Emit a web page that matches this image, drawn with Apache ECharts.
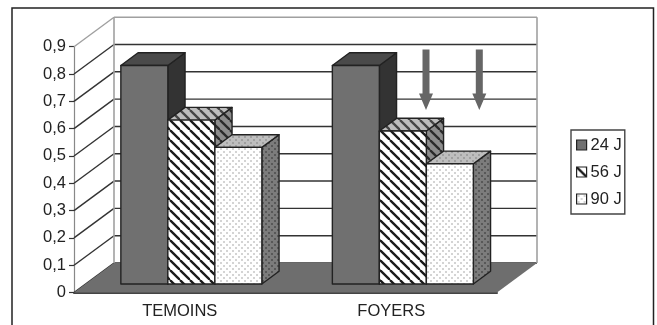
<!doctype html>
<html lang="fr">
<head>
    <meta charset="UTF-8">
    <title>Graphique</title>
    <script src="https://cdn.jsdelivr.net/npm/echarts@6/dist/echarts.min.js"></script>
    <style>
        html, body { margin: 0; padding: 0; background: #fff; overflow: hidden; }
        #main { width: 657px; height: 325px; filter: blur(0.5px); }
    </style>
</head>
<body>
<div id="main"></div>
<script type="text/javascript">
    // chart data
    var categories = ['TEMOINS', 'FOYERS'];
    var values24 = [0.8, 0.8];
    var values56 = [0.6, 0.56];
    var values90 = [0.5, 0.44];
    var yTicks = [0, 0.1, 0.2, 0.3, 0.4, 0.5, 0.6, 0.7, 0.8, 0.9];
    var seriesNames = ['24 J', '56 J', '90 J'];

    // fake 3d: how far the back wall sits from the front plane
    var DEPTH_X = 40, DEPTH_Y = -29.5;
    var BAR_START = 0.29, BAR_DEPTH = 0.43;

    function tile(size, bg, draw) {
        var c = document.createElement('canvas');
        c.width = c.height = size;
        var ctx = c.getContext('2d');
        ctx.fillStyle = bg;
        ctx.fillRect(0, 0, size, size);
        draw(ctx);
        return { image: c, repeat: 'repeat' };
    }
    function hatch(bg, fg) {
        var p = 10;
        return tile(p, bg, function (ctx) {
            ctx.strokeStyle = fg;
            ctx.lineWidth = 2.3;
            [-p, 0, p].forEach(function (o) {
                ctx.beginPath();
                ctx.moveTo(o, 0);
                ctx.lineTo(o + p, p);
                ctx.stroke();
            });
        });
    }
    function dots(bg, fg) {
        return tile(6, bg, function (ctx) {
            ctx.fillStyle = fg;
            ctx.fillRect(1, 1, 2, 2);
            ctx.fillRect(4, 4, 2, 2);
        });
    }

    var faces = [
        { front: '#707070', top: '#4a4a4a', side: '#333333' },
        { front: hatch('#ffffff', '#1a1a1a'), top: hatch('#bdbdbd', '#444444'), side: hatch('#8c8c8c', '#2a2a2a') },
        { front: dots('#ffffff', '#d4d4d4'), top: dots('#bebebe', '#a0a0a0'), side: dots('#7c7c7c', '#585858') }
    ];

    function barRender(s) {
        return function (params, api) {
            var cat = api.value(0);
            var base = api.coord([cat, 0]);
            var top = api.coord([cat, api.value(1)]);
            var w = api.size([1, 0])[0] / 4.5;
            var x0 = base[0] - 1.5 * w + s * w + BAR_START * DEPTH_X;
            var x1 = x0 + w;
            var y0 = base[1] + BAR_START * DEPTH_Y;
            var y1 = top[1] + BAR_START * DEPTH_Y;
            var dx = BAR_DEPTH * DEPTH_X, dy = BAR_DEPTH * DEPTH_Y;
            var line = { stroke: '#222', lineWidth: 1.4, lineJoin: 'round' };
            function face(points, fill) {
                return { type: 'polygon', shape: { points: points }, style: Object.assign({ fill: fill }, line) };
            }
            return {
                type: 'group',
                children: [
                    face([[x1, y0], [x1 + dx, y0 + dy], [x1 + dx, y1 + dy], [x1, y1]], faces[s].side),
                    face([[x0, y1], [x1, y1], [x1 + dx, y1 + dy], [x0 + dx, y1 + dy]], faces[s].top),
                    face([[x0, y0], [x1, y0], [x1, y1], [x0, y1]], faces[s].front)
                ]
            };
        };
    }

    // wall lines: one diagonal on the left wall and one line across the back per tick
    function gridRender(params, api) {
        var v = api.value(0);
        var p = api.coord([0, v]);
        var left = params.coordSys.x;
        var right = left + params.coordSys.width;
        var color = v === 0.9 ? '#a0a0a0' : '#333';
        var st = { stroke: color, lineWidth: 1.4 };
        return {
            type: 'group',
            children: [
                { type: 'line', shape: { x1: left, y1: p[1], x2: left + DEPTH_X, y2: p[1] + DEPTH_Y }, style: st },
                { type: 'line', shape: { x1: left + DEPTH_X, y1: p[1] + DEPTH_Y, x2: right + DEPTH_X, y2: p[1] + DEPTH_Y }, style: st }
            ]
        };
    }

    function floorRender(params, api) {
        var low = api.coord([0, 0])[1];
        var high = api.coord([0, api.value(0)])[1];
        var left = params.coordSys.x;
        var right = left + params.coordSys.width;
        var wall = { stroke: '#a0a0a0', lineWidth: 1.6 };
        return {
            type: 'group',
            children: [
                { type: 'line', shape: { x1: left + DEPTH_X, y1: high + DEPTH_Y, x2: left + DEPTH_X, y2: low + DEPTH_Y }, style: wall },
                { type: 'line', shape: { x1: right + DEPTH_X, y1: high + DEPTH_Y, x2: right + DEPTH_X, y2: low + DEPTH_Y }, style: wall },
                {
                    type: 'polygon',
                    shape: { points: [[left, low], [right, low], [right + DEPTH_X, low + DEPTH_Y], [left + DEPTH_X, low + DEPTH_Y]] },
                    style: { fill: '#6e6e6e' }
                }
            ]
        };
    }

    function arrow(x) {
        return {
            type: 'polygon',
            z: 100,
            shape: { points: [[x - 3.5, 49.5], [x + 3.5, 49.5], [x + 3.5, 93.5], [x + 7, 93.5], [x, 110], [x - 7, 93.5], [x - 3.5, 93.5]] },
            style: { fill: '#666666' }
        };
    }

    function barData(values) {
        return values.map(function (v, i) { return [i, v]; });
    }

    var allValues = [values24, values56, values90];
    var barSeries = allValues.map(function (values, s) {
        return {
            name: seriesNames[s],
            type: 'custom',
            data: barData(values),
            encode: { x: 0, y: 1 },
            renderItem: barRender(s)
        };
    });

    var myChart = echarts.init(document.getElementById('main'), null, { renderer: 'canvas' });

    var option = {
        animation: false,
        backgroundColor: '#fff',
        textStyle: { fontFamily: '"Liberation Sans", Arial, sans-serif' },
        grid: { left: 74, top: 46.7, width: 423, height: 245.8, containLabel: false },
        legend: {
            orient: 'vertical',
            left: 571,
            top: 130,
            padding: [6, 3, 6, 5],
            itemGap: 9,
            itemWidth: 10,
            itemHeight: 10,
            borderColor: '#444',
            borderWidth: 1.4,
            selectedMode: false,
            textStyle: { fontSize: 16.5, color: '#222', padding: [0, 0, 0, -1], lineHeight: 18 },
            data: seriesNames.map(function (name, s) {
                return {
                    name: name,
                    icon: 'rect',
                    itemStyle: { color: faces[s].front, borderColor: '#222', borderWidth: 1.2 }
                };
            })
        },
        xAxis: {
            type: 'category',
            data: categories,
            axisLine: { lineStyle: { color: '#444', width: 2 } },
            axisTick: { length: 4, lineStyle: { color: '#333', width: 1.2 } },
            axisLabel: { fontSize: 16.5, color: '#222', margin: 10 },
            splitLine: { show: false }
        },
        yAxis: {
            type: 'value',
            min: 0,
            max: 0.9,
            interval: 0.1,
            axisLine: { show: true, lineStyle: { color: '#888', width: 1.2 } },
            axisTick: { show: true, length: 5, lineStyle: { color: '#333', width: 1.2 } },
            axisLabel: {
                fontSize: 16.5,
                color: '#222',
                margin: 8,
                formatter: function (v) { return String(v).replace('.', ','); }
            },
            splitLine: { show: false }
        },
        series: [
            { type: 'custom', silent: true, data: yTicks.map(function (v) { return [v]; }), encode: { y: 0 }, renderItem: gridRender },
            { type: 'custom', silent: true, data: [[0.9]], encode: { y: 0 }, renderItem: floorRender }
        ].concat(barSeries),
        graphic: [
            {
                type: 'rect',
                z: 100,
                shape: { x: 12, y: 8, width: 641.5, height: 340 },
                style: { fill: 'none', stroke: '#222', lineWidth: 1.5 }
            },
            arrow(426),
            arrow(479.3)
        ]
    };

    myChart.setOption(option);
</script>
</body>
</html>
